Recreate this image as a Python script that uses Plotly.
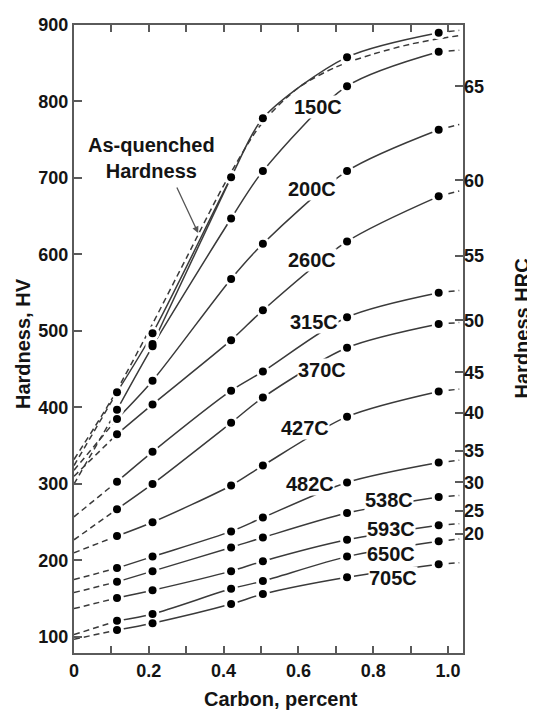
import plotly.graph_objects as go

# ---------------- data ----------------
carbon = [0.115, 0.21, 0.42, 0.505, 0.73, 0.975]
carbon_start = 0.0
carbon_end = 1.03

labels = ["", "150C", "200C", "260C", "315C", "370C", "427C", "482C", "538C", "593C", "650C", "705C"]

hv_top = [420, 497, 701, 778, 858, 890]
hv_150 = [397, 480, 647, 709, 820, 865]
hv_200 = [385, 435, 568, 614, 709, 763]
hv_260 = [365, 404, 488, 527, 617, 676]
hv_315 = [303, 342, 422, 447, 518, 550]
hv_370 = [267, 300, 380, 413, 478, 509]
hv_427 = [232, 250, 298, 324, 388, 421]
hv_482 = [190, 205, 238, 256, 302, 328]
hv_538 = [172, 186, 217, 230, 262, 283]
hv_593 = [151, 161, 186, 199, 227, 246]
hv_650 = [121, 130, 163, 173, 205, 225]
hv_705 = [109, 118, 143, 156, 178, 195]

# extrapolated (dashed) ends at 0 % C and at the right edge
hv_at_zero = [324, 300, 318, 310, 257, 227, 210, 175, 158, 137, 103, 97]
hv_at_end = [893, 867, 770, 683, 553, 511, 424, 331, 285, 248, 228, 197]

# second short as-quenched data line
extra_carbon = [0.21, 0.42]
extra_hv = [483, 701]

# as-quenched hardness (dashed)
aq_carbon = [0, 0.1, 0.2, 0.3, 0.4, 0.5, 0.6, 0.7, 0.8, 0.9, 1.0, 1.03]
aq_hv = [332, 410, 500, 595, 690, 770, 818, 845, 862, 875, 884, 886]

# HRC scale on the right (position in HV)
hrc_labels = ["65", "60", "55", "50", "45", "40", "35", "30", "25", "20"]
hrc_in_hv = [820, 697, 598, 514, 446, 393, 343, 302, 265, 235]

x_ticks = [0, 0.1, 0.2, 0.3, 0.4, 0.5, 0.6, 0.7, 0.8, 0.9, 1.0]
x_ticktext = ["0", "", "0.2", "", "0.4", "", "0.6", "", "0.8", "", "1.0"]
y_ticks = [100, 200, 300, 400, 500, 600, 700, 800, 900]

series = [hv_top, hv_150, hv_200, hv_260, hv_315, hv_370, hv_427,
          hv_482, hv_538, hv_593, hv_650, hv_705]

# ---------------- styles ----------------
LINE = "#3a3a3a"
AX = "#5a5a5a"
TXT = "#141414"
DASH = "6px,4px"
LW = 1.5

label_pos = {
    "150C": (0.652, 793), "200C": (0.636, 685), "260C": (0.636, 593),
    "315C": (0.641, 512), "370C": (0.663, 449), "427C": (0.617, 373),
    "482C": (0.631, 300), "538C": (0.842, 279), "593C": (0.847, 241),
    "650C": (0.847, 209), "705C": (0.854, 177),
}

fig = go.Figure()

# as-quenched dashed curve
fig.add_trace(go.Scatter(x=aq_carbon, y=aq_hv, mode="lines",
                         line=dict(color=LINE, width=LW, dash=DASH, shape="spline", smoothing=0.8),
                         hoverinfo="skip", showlegend=False))

for vals, h0, h1 in zip(series, hv_at_zero, hv_at_end):
    fig.add_trace(go.Scatter(x=[carbon_start, carbon[0]], y=[h0, vals[0]], mode="lines",
                             line=dict(color=LINE, width=LW, dash=DASH),
                             hoverinfo="skip", showlegend=False))
    fig.add_trace(go.Scatter(x=carbon, y=vals, mode="lines",
                             line=dict(color=LINE, width=LW, shape="spline", smoothing=0.8),
                             hoverinfo="skip", showlegend=False))
    fig.add_trace(go.Scatter(x=[carbon[-1], carbon_end], y=[vals[-1], h1], mode="lines",
                             line=dict(color=LINE, width=LW, dash=DASH),
                             hoverinfo="skip", showlegend=False))

fig.add_trace(go.Scatter(x=extra_carbon, y=extra_hv, mode="lines",
                         line=dict(color=LINE, width=LW),
                         hoverinfo="skip", showlegend=False))

all_x = [c for _ in series for c in carbon] + extra_carbon[:1]
all_y = [v for s in series for v in s] + extra_hv[:1]

# white halos (gap around the dots)
fig.add_trace(go.Scatter(x=all_x, y=all_y, mode="markers",
                         marker=dict(color="white", size=14, line=dict(width=0)),
                         hoverinfo="skip", showlegend=False))
fig.add_trace(go.Scatter(x=all_x, y=all_y, mode="markers",
                         marker=dict(color="black", size=8, line=dict(width=0)),
                         showlegend=False))

# HRC axis carrier
fig.add_trace(go.Scatter(x=[0], y=[500], yaxis="y2", mode="markers",
                         marker=dict(opacity=0), hoverinfo="skip", showlegend=False))

LBL_FONT = dict(family="Liberation Sans, Arial, sans-serif", size=20, color=TXT, weight="bold")
TICK_FONT = dict(family="Liberation Sans, Arial, sans-serif", size=18, color=TXT, weight="bold")

annotations = []
for name in labels:
    if not name:
        continue
    lx, ly = label_pos[name]
    annotations.append(dict(x=lx, y=ly, xref="x", yref="y", text=name, showarrow=False,
                            font=LBL_FONT, bgcolor="white", borderpad=0,
                            xanchor="center", yanchor="middle"))

annotations.append(dict(x=0.208, y=726, xref="x", yref="y",
                        text="As-quenched<br>Hardness", showarrow=False,
                        font=LBL_FONT, align="center", xanchor="center", yanchor="middle"))
annotations.append(dict(x=0.332, y=628, xref="x", yref="y", text="", showarrow=True,
                        ax=-22, ay=-47, arrowhead=2, arrowsize=1, arrowwidth=1.3,
                        arrowcolor="#555555"))

annotations.append(dict(x=0.532, y=-0.074, xref="paper", yref="paper",
                        text="Carbon, percent", showarrow=False, font=LBL_FONT,
                        xanchor="center", yanchor="middle"))
annotations.append(dict(x=-0.131, y=0.492, xref="paper", yref="paper",
                        text="Hardness, HV", showarrow=False, font=LBL_FONT, textangle=-90,
                        xanchor="center", yanchor="middle"))
annotations.append(dict(x=1.152, y=0.517, xref="paper", yref="paper",
                        text="Hardness HRC", showarrow=False, font=LBL_FONT, textangle=-90,
                        xanchor="center", yanchor="middle"))

# page body has an 8px default margin: size the figure so that the plot area
# lands where the reference has it
fig.update_layout(
    width=527, height=702, autosize=False,
    margin=dict(l=66, r=72, t=7, b=57),
    paper_bgcolor="white", plot_bgcolor="white",
    showlegend=False,
    xaxis=dict(range=[0, 1.04], tickvals=x_ticks, ticktext=x_ticktext,
               ticks="inside", ticklen=7, tickwidth=1.5, tickcolor=AX,
               showline=True, linecolor=AX, linewidth=2, mirror="ticks",
               showgrid=False, zeroline=False, tickfont=TICK_FONT),
    yaxis=dict(range=[79, 900], tickvals=y_ticks,
               ticks="inside", ticklen=8, tickwidth=1.5, tickcolor=AX,
               showline=True, linecolor=AX, linewidth=2, mirror=True,
               showgrid=False, zeroline=False, tickfont=TICK_FONT,
               ticklabeloverflow="allow"),
    yaxis2=dict(range=[79, 900], overlaying="y", side="right",
                tickvals=hrc_in_hv, ticktext=hrc_labels,
                ticks="inside", ticklen=8, tickwidth=1.5, tickcolor=AX,
                showline=False, showgrid=False, zeroline=False, tickfont=TICK_FONT),
    annotations=annotations,
)

fig.write_html("out.html")
